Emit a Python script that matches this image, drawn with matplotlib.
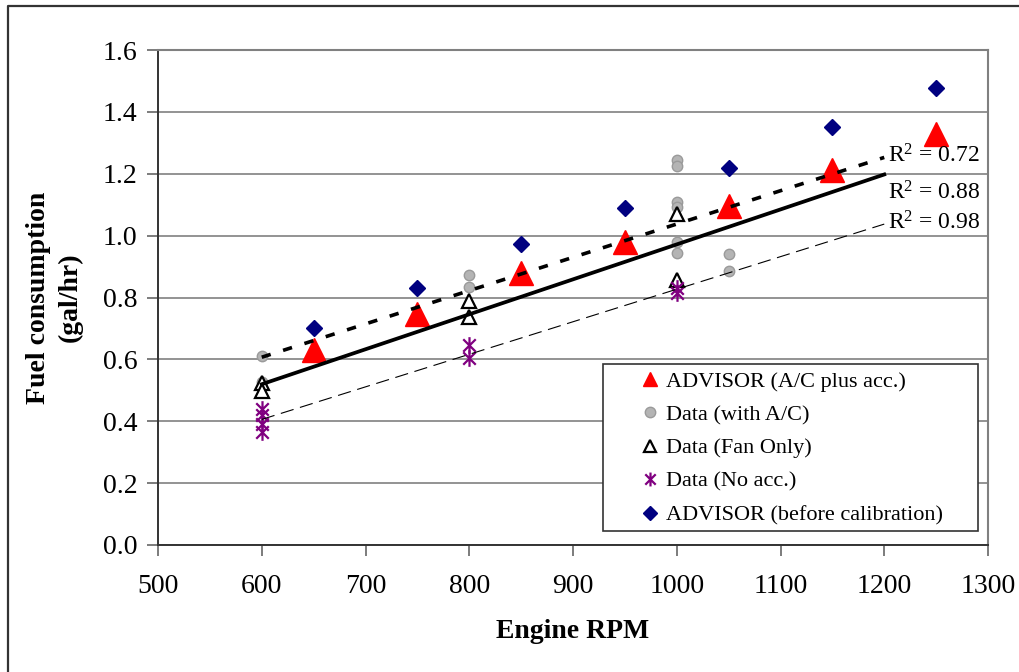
import matplotlib
matplotlib.use("Agg")
import matplotlib.pyplot as plt
import numpy as np
from matplotlib.lines import Line2D
from matplotlib.path import Path
from matplotlib.patches import Rectangle

plt.rcParams['font.family'] = ['Liberation Serif', 'DejaVu Serif']
plt.rcParams['mathtext.fontset'] = 'custom'
plt.rcParams['mathtext.rm'] = 'Liberation Serif'
plt.rcParams['mathtext.it'] = 'Liberation Serif:italic'

# ADVISOR (A/C plus acc.)
rpm_adv = [650, 750, 850, 950, 1050, 1150, 1250]
fuel_adv = [0.63, 0.748, 0.878, 0.98, 1.096, 1.212, 1.328]

# ADVISOR (before calibration)
rpm_before = [650, 750, 850, 950, 1050, 1150, 1250]
fuel_before = [0.702, 0.832, 0.973, 1.09, 1.219, 1.35, 1.476]

# Data (with A/C)
rpm_ac = [600, 600, 800, 800, 1000, 1000, 1000, 1000, 1000, 1000, 1050, 1050]
fuel_ac = [0.612, 0.526, 0.873, 0.834, 1.244, 1.225, 1.11, 1.091, 0.98, 0.945, 0.94, 0.886]

# Data (Fan Only)
rpm_fan = [600, 600, 800, 800, 1000, 1000]
fuel_fan = [0.523, 0.498, 0.79, 0.738, 1.069, 0.856]

# Data (No acc.)
rpm_none = [600, 600, 600, 600, 800, 800, 1000, 1000]
fuel_none = [0.44, 0.42, 0.39, 0.365, 0.645, 0.605, 0.83, 0.815]

r2_labels = ["R$^2$ = 0.72", "R$^2$ = 0.88", "R$^2$ = 0.98"]
x_ticks = [500, 600, 700, 800, 900, 1000, 1100, 1200, 1300]
y_ticks = [0.0, 0.2, 0.4, 0.6, 0.8, 1.0, 1.2, 1.4, 1.6]

# marcador asterisco estilo Excel (X + linea vertical)
ast = Path([(0, 1), (0, -1), (-0.75, 0.75), (0.75, -0.75), (-0.75, -0.75), (0.75, 0.75)],
           [Path.MOVETO, Path.LINETO, Path.MOVETO, Path.LINETO, Path.MOVETO, Path.LINETO])

fig = plt.figure(figsize=(10.19, 6.72), dpi=100)
ax = fig.add_axes([158 / 1019, 1 - 545 / 672, 830 / 1019, 495 / 672])

# marco exterior del grafico
fig.add_artist(Line2D([8 / 1019, 8 / 1019, 1.0], [0.0, 1 - 6 / 672, 1 - 6 / 672],
                      transform=fig.transFigure, color='#333333', lw=1.6))

ax.set_xlim(500, 1300)
ax.set_ylim(0, 1.6)
ax.set_xticks(x_ticks)
ax.set_yticks(y_ticks)
ax.set_xticklabels([str(v) for v in x_ticks])
ax.set_yticklabels(["%.1f" % v for v in y_ticks])
ax.tick_params(axis='both', direction='out', length=8, width=1.2, color='#666666',
               labelsize=20)
ax.tick_params(axis='x', pad=13)
ax.tick_params(axis='y', pad=7)
ax.yaxis.grid(True, color='#808080', lw=1.2)
ax.set_axisbelow(True)
for s in ['top', 'right']:
    ax.spines[s].set_color('#808080')
    ax.spines[s].set_linewidth(1.5)
for s in ['left', 'bottom']:
    ax.spines[s].set_color('#333333')
    ax.spines[s].set_linewidth(1.4)

# puntos
ax.plot(rpm_ac, fuel_ac, 'o', ms=7.5, mfc='#B4B4B4', mec='#9A9A9A', mew=1.0, zorder=3)
ax.plot(rpm_fan, fuel_fan, '^', ms=10, mfc='white', mec='black', mew=1.6, zorder=3)
ax.plot(rpm_none, fuel_none, linestyle='none', marker=ast, ms=12, mec='#800080', mew=1.6, zorder=3)
ax.plot(rpm_before, fuel_before, 'D', ms=8.5, mfc='#000080', mec='#000080', zorder=3)
ax.plot(rpm_adv, fuel_adv, '^', ms=17, mfc='#FF0000', mec='#FF0000', zorder=3)

# lineas de tendencia (ajuste lineal, extendidas hasta 1200)
xx = np.array([600, 1200])
p = np.polyfit(rpm_ac, fuel_ac, 1)
ax.plot(xx, np.polyval(p, xx), color='black', lw=2.6, dashes=(2.6, 3.6), zorder=4)
p = np.polyfit(rpm_fan, fuel_fan, 1)
ax.plot(xx, np.polyval(p, xx), color='black', lw=2.7, zorder=4)
p = np.polyfit(rpm_none, fuel_none, 1)
ax.plot(xx, np.polyval(p, xx), color='black', lw=0.8, dashes=(12, 6), zorder=4)

ax.text(1204, 1.257, r2_labels[0], fontsize=17, ha='left', va='center')
ax.text(1204, 1.138, r2_labels[1], fontsize=17, ha='left', va='center')
ax.text(1204, 1.040, r2_labels[2], fontsize=17, ha='left', va='center')

ax.set_xlabel("Engine RPM", fontsize=20, fontweight='bold', labelpad=14)
ax.set_ylabel("Fuel consumption\n(gal/hr)", fontsize=20, fontweight='bold', labelpad=14,
              linespacing=1.35)

# leyenda
handles = [
    Line2D([], [], linestyle='none', marker='^', ms=10, mfc='#FF0000', mec='#FF0000'),
    Line2D([], [], linestyle='none', marker='o', ms=7.5, mfc='#B4B4B4', mec='#9A9A9A'),
    Line2D([], [], linestyle='none', marker='^', ms=8, mfc='white', mec='black', mew=1.6),
    Line2D([], [], linestyle='none', marker=ast, ms=10, mec='#800080', mew=1.6),
    Line2D([], [], linestyle='none', marker='D', ms=7, mfc='#000080', mec='#000080'),
]
labels = ["ADVISOR (A/C plus acc.)", "Data (with A/C)", "Data (Fan Only)",
          "Data (No acc.)", "ADVISOR (before calibration)"]
fig.patches.append(Rectangle((603 / 1019, 1 - 531 / 672), 375 / 1019, 167 / 672,
                             transform=fig.transFigure, fill=True, fc='white',
                             ec='#333333', lw=1.2, zorder=5))
leg = fig.legend(handles, labels, loc='upper left',
                 bbox_to_anchor=(639 / 1019, 1 - 371 / 672), frameon=False,
                 fontsize=16, handlelength=1.0, handletextpad=0.2,
                 labelspacing=0.58, borderpad=0, borderaxespad=0)
leg.set_zorder(6)

fig.savefig("out.png", dpi=100)
